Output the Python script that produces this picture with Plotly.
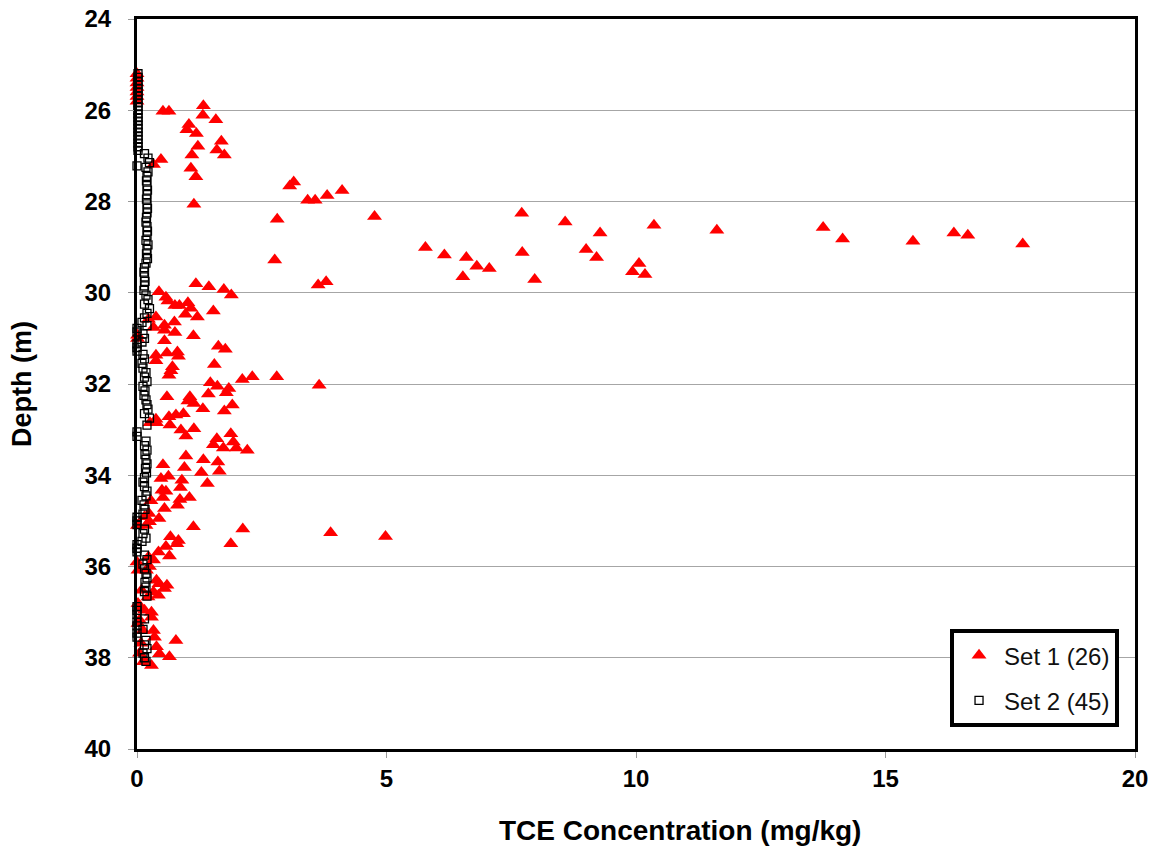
import plotly.graph_objects as go

# ---------------- Data ----------------
set1_conc = [
    0.0, 0.0, 0.0, 0.0, 0.0, 0.0, 0.0,
    0.52, 0.64, 1.33, 1.32, 1.58, 1.04, 1.00, 1.19, 1.69, 1.22, 1.60, 1.75, 1.10, 0.48, 0.33, 1.08, 1.18, 1.14,
    3.14, 3.06, 2.81, 3.42, 3.57, 3.81, 4.11, 4.76,
    5.78, 6.16, 6.60, 6.81, 7.06, 6.53, 7.71, 7.72, 7.97, 8.58, 9.28, 9.00, 9.21, 10.36, 10.06, 9.93, 10.18,
    11.62, 13.75, 14.14, 15.55, 16.37, 16.65, 17.75,
    3.63, 3.79, 2.76,
    1.18, 1.44, 1.74, 1.89, 0.44, 0.58, 0.62, 0.76, 0.85, 1.02, 1.08, 0.97, 1.21, 1.53, 0.38, 0.23, 0.75, 0.55,
    0.55, 0.33, 0.76, 1.13, 0.01, 0.01, 0.55, 1.63, 1.77, 0.38, 0.60, 0.81, 0.83, 0.38, 1.55, 0.71, 0.68, 0.64,
    2.11, 2.31, 2.80, 3.65, 1.47, 1.61, 1.84, 1.79, 0.60, 1.43, 1.06, 1.02, 1.14, 1.32, 1.75, 1.91, 0.93, 0.78,
    0.64, 0.38,
    0.26, 0.39, 0.66, 0.88, 1.14, 0.98, 1.60, 1.53, 1.88, 1.93, 1.73, 1.99, 2.21, 0.98, 1.33, 1.62, 0.52, 0.95,
    1.65, 1.29, 0.48, 0.63, 0.90, 0.87, 1.41, 0.50, 0.58, 0.52, 0.86, 1.05, 0.81, 0.55, 0.28, 0.24, 0.44, 0.25,
    0.18, 0.01, 0.15, 1.13, 2.12, 3.88, 4.98, 0.67, 0.83, 0.80, 1.88, 0.58, 0.65, 0.43, 0.33, 0.23,
    0.00, 0.02, 0.19, 0.25, 0.39, 0.60, 0.44, 0.55, 0.33, 0.43, 0.09, 0.22, 0.02, 0.15, 0.29, 0.29, 0.02, 0.12,
    0.33, 0.35, 0.78, 0.39, 0.45, 0.65, 0.15, 0.29, 0.13, 0.05, 0.08, 0.05, 0.06,
]
set1_depth = [
    25.20, 25.30, 25.40, 25.50, 25.60, 25.70, 25.80,
    26.02, 26.02, 25.90, 26.11, 26.21, 26.31, 26.43, 26.51, 26.68, 26.79, 26.87, 26.98, 26.98, 27.08, 27.19, 27.27, 27.46, 28.06,
    27.57, 27.66, 28.39, 27.97, 27.97, 27.87, 27.76, 28.33,
    29.01, 29.17, 29.23, 29.42, 29.47, 29.65, 28.26, 29.12, 29.71, 28.45, 28.69, 29.05, 29.23, 28.52, 29.36, 29.54, 29.60,
    28.63, 28.57, 28.82, 28.87, 28.69, 28.74, 28.93,
    29.83, 29.76, 29.28,
    29.80, 29.87, 29.93, 30.05, 29.98, 30.10, 30.18, 30.28, 30.28, 30.22, 30.34, 30.47, 30.53, 30.40, 30.53, 30.58, 30.64, 30.71,
    30.82, 30.76, 30.87, 30.94, 31.00, 30.93, 31.05, 31.17, 31.24, 31.37, 31.32, 31.30, 31.39, 31.49, 31.57, 31.62, 31.71, 31.81,
    31.90, 31.84, 31.84, 32.03, 31.97, 32.05, 32.10, 32.19, 32.28, 32.22, 32.28, 32.37, 32.43, 32.54, 32.59, 32.46, 32.65, 32.68,
    32.72, 32.77,
    32.85, 32.85, 32.90, 33.01, 32.98, 33.14, 33.20, 33.33, 33.09, 33.27, 33.40, 33.40, 33.45, 33.58, 33.66, 33.71, 33.77, 33.83,
    33.91, 33.94, 34.07, 34.02, 34.11, 34.27, 34.18, 34.33, 34.35, 34.49, 34.53, 34.49, 34.66, 34.73, 34.56, 34.84, 34.95, 35.02,
    35.10, 35.10, 34.91, 35.13, 35.18, 35.26, 35.34, 35.35, 35.43, 35.50, 35.50, 35.56, 35.77, 35.68, 35.86, 35.79,
    35.90, 36.08, 36.08, 36.00, 36.30, 36.41, 36.38, 36.48, 36.56, 36.63, 36.52, 36.67, 36.81, 36.96, 37.11, 37.00, 37.25, 37.40,
    37.40, 37.55, 37.62, 37.76, 37.91, 37.98, 38.06, 38.17, 38.09, 37.90, 37.68, 37.17, 36.92,
]

set2_conc = [
    0.02, 0.02, 0.02, 0.02, 0.02, 0.02, 0.02, 0.02, 0.02, 0.02, 0.02, 0.02, 0.02, 0.02, 0.02, 0.02, 0.02, 0.02,
    0.02, 0.02, 0.02, 0.02,
    0.15, 0.22, 0.25, 0.00, 0.18, 0.22,
    0.20, 0.19, 0.20, 0.21, 0.20, 0.19, 0.20, 0.21, 0.20, 0.19, 0.18, 0.20, 0.21,
    0.20, 0.18, 0.22, 0.20, 0.19, 0.21, 0.18,
    0.15, 0.14, 0.15, 0.16, 0.15, 0.14,
    0.18, 0.22, 0.15, 0.25, 0.20,
    0.15, 0.10, 0.20, 0.00, 0.00, 0.12, 0.15,
    0.10, 0.00, 0.00, 0.00, 0.12, 0.15, 0.10,
    0.12, 0.18, 0.15, 0.20, 0.12, 0.16, 0.14, 0.18, 0.20,
    0.22, 0.15, 0.25, 0.20, 0.00, 0.00,
    0.18, 0.15, 0.20, 0.16, 0.18, 0.20, 0.17, 0.19, 0.15,
    0.12, 0.15, 0.20, 0.18, 0.10, 0.14, 0.16, 0.12, 0.00, 0.00, 0.00,
    0.15, 0.12, 0.18, 0.10, 0.00, 0.00, 0.00, 0.15, 0.20, 0.12,
    0.15, 0.18, 0.20, 0.16, 0.18, 0.15, 0.20, 0.00, 0.00, 0.00,
    0.15, 0.00, 0.00, 0.12, 0.00, 0.00, 0.18, 0.15, 0.20, 0.12, 0.15, 0.18,
]
set2_depth = [
    25.20, 25.28, 25.36, 25.44, 25.52, 25.60, 25.68, 25.76, 25.84, 25.92, 26.00, 26.08, 26.16, 26.24, 26.32, 26.40, 26.48, 26.56,
    26.64, 26.72, 26.80, 26.88,
    26.95, 27.05, 27.15, 27.22, 27.25, 27.35,
    27.45, 27.55, 27.65, 27.75, 27.85, 27.95, 28.05, 28.15, 28.25, 28.35, 28.45, 28.55, 28.65,
    28.75, 28.85, 28.95, 29.05, 29.15, 29.25, 29.35,
    29.45, 29.55, 29.65, 29.75, 29.85, 29.95,
    30.05, 30.15, 30.25, 30.35, 30.45,
    30.55, 30.65, 30.72, 30.78, 30.86, 30.90, 31.00,
    31.08, 31.12, 31.20, 31.28, 31.35, 31.45, 31.55,
    31.65, 31.75, 31.85, 31.95, 32.05, 32.15, 32.25, 32.35, 32.45,
    32.55, 32.65, 32.75, 32.90, 33.05, 33.15,
    33.25, 33.35, 33.45, 33.55, 33.65, 33.75, 33.85, 33.95, 34.05,
    34.15, 34.25, 34.35, 34.45, 34.55, 34.65, 34.75, 34.85, 34.92, 35.00, 35.08,
    35.18, 35.28, 35.38, 35.45, 35.52, 35.60, 35.68, 35.75, 35.85, 35.95,
    36.05, 36.15, 36.25, 36.35, 36.45, 36.55, 36.65, 36.88, 36.96, 37.05,
    37.15, 37.22, 37.30, 37.38, 37.46, 37.55, 37.62, 37.72, 37.80, 37.90, 38.00, 38.08,
]

x_ticks = [0, 5, 10, 15, 20]
y_ticks = [24, 26, 28, 30, 32, 34, 36, 38, 40]
x_title = "TCE Concentration (mg/kg)"
y_title = "Depth (m)"

FONT = "Arial, 'Liberation Sans', sans-serif"

fig = go.Figure()
fig.add_trace(go.Scatter(
    x=set1_conc, y=set1_depth, mode="markers", name="Set 1 (26)",
    legendgroup="g1",
    marker=dict(symbol="triangle-up", size=13, color="#FF0000", line=dict(width=0)),
    cliponaxis=False,
))
fig.add_trace(go.Scatter(
    x=set2_conc, y=set2_depth, mode="markers", name="Set 2 (45)",
    legendgroup="g2",
    marker=dict(symbol="square", size=8, color="rgba(255,255,255,0)",
                line=dict(width=1.3, color="#000000")),
    cliponaxis=False,
))

fig.update_layout(
    width=1165, height=855,
    margin=dict(l=137, r=30, t=19, b=106, autoexpand=False),
    paper_bgcolor="white", plot_bgcolor="white",
    font=dict(family=FONT, color="black"),
    showlegend=True,
    legend=dict(
        x=0.984, xanchor="right", y=0.03, yanchor="bottom",
        bordercolor="black", borderwidth=4, bgcolor="white",
        font=dict(size=24, family=FONT, color="#111111"),
        tracegroupgap=11, itemwidth=40,
    ),
    annotations=[dict(
        text="<b>" + x_title + "</b>", xref="paper", yref="paper",
        x=0.544, y=-0.111, xanchor="center", yanchor="middle", showarrow=False,
        font=dict(size=28, family=FONT, color="black"),
    )],
)
fig.update_xaxes(
    range=[0, 20], tickvals=x_ticks, ticktext=[str(v) for v in x_ticks],
    showgrid=False, zeroline=False,
    showline=True, linewidth=3, linecolor="black", mirror=True,
    ticks="outside", ticklen=6, tickcolor="#999999", tickwidth=1,
    tickfont=dict(size=24, family=FONT, color="black", weight="bold"),
)
fig.update_yaxes(
    range=[40, 24], tickvals=y_ticks, ticktext=[str(v) for v in y_ticks],
    showgrid=True, gridcolor="#A6A6A6", gridwidth=1, zeroline=False,
    showline=True, linewidth=3, linecolor="black", mirror=True,
    ticks="outside", ticklen=6, tickcolor="#999999", tickwidth=1,
    ticklabelstandoff=12,
    tickfont=dict(size=24, family=FONT, color="black", weight="bold"),
    title=dict(text="<b>" + y_title + "</b>", font=dict(size=27, family=FONT), standoff=46),
)

fig.write_html("out.html")
